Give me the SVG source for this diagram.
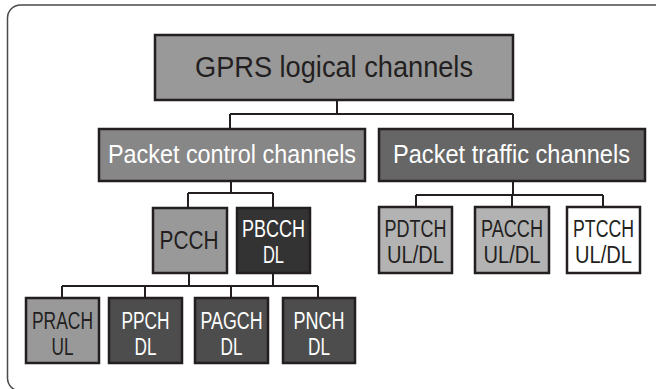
<svg xmlns="http://www.w3.org/2000/svg" width="656" height="389" viewBox="0 0 656 389">
<style>
.box{stroke:#231f20;stroke-width:2.5}
.con{fill:none;stroke:#231f20;stroke-width:2}
text{font-family:"Liberation Sans",Arial,sans-serif;text-anchor:middle}
.w{fill:#ffffff}
.d{fill:#231f20}
.s{font-size:23px}
.m{font-size:26px}
</style>
<rect x="7.5" y="5" width="670" height="386" rx="13" fill="#ffffff" stroke="#4a4a4a" stroke-width="1.5"/>
<g id="connectors">
<path class="con" d="M337 100V114M230 114H513M230 114V129M513 114V129"/>
<path class="con" d="M231 181V193M188 193H273M188 193V208M273 193V208"/>
<path class="con" d="M513 181V195M416 195H603M416 195V207M512 195V207M603 195V207"/>
<path class="con" d="M189 273V286M273 273V286M62 286H318M62 286V298M145 286V298M231 286V298M318 286V298"/>
</g>
<g id="gprs">
<rect class="box" x="155" y="35" width="358" height="65" fill="#999999"/>
<text class="d" x="334" y="77" font-size="30" textLength="278" lengthAdjust="spacingAndGlyphs">GPRS logical channels</text>
</g>
<g id="pcc">
<rect class="box" x="99" y="129" width="266" height="52" fill="#878787"/>
<text class="w m" x="232" y="163" textLength="248" lengthAdjust="spacingAndGlyphs">Packet control channels</text>
</g>
<g id="ptc">
<rect class="box" x="379" y="129" width="266" height="52" fill="#666666"/>
<text class="w m" x="511.5" y="163" textLength="237" lengthAdjust="spacingAndGlyphs">Packet traffic channels</text>
</g>
<g id="pcch">
<rect class="box" x="153" y="208" width="74" height="65" fill="#999999"/>
<text class="d" x="189" y="249" font-size="25" textLength="59" lengthAdjust="spacingAndGlyphs">PCCH</text>
</g>
<g id="pbcch">
<rect class="box" x="237" y="208" width="73" height="65" fill="#333333"/>
<text class="w s" x="273.5" y="237" textLength="63" lengthAdjust="spacingAndGlyphs">PBCCH</text>
<text class="w s" x="273.5" y="263" textLength="21" lengthAdjust="spacingAndGlyphs">DL</text>
</g>
<g id="pdtch">
<rect class="box" x="379" y="207" width="73" height="66" fill="#b3b3b3"/>
<text class="d s" x="415.5" y="237" textLength="62" lengthAdjust="spacingAndGlyphs">PDTCH</text>
<text class="d s" x="415.5" y="263" textLength="57" lengthAdjust="spacingAndGlyphs">UL/DL</text>
</g>
<g id="pacch">
<rect class="box" x="475" y="207" width="74" height="66" fill="#b3b3b3"/>
<text class="d s" x="512" y="237" textLength="62" lengthAdjust="spacingAndGlyphs">PACCH</text>
<text class="d s" x="512" y="263" textLength="57" lengthAdjust="spacingAndGlyphs">UL/DL</text>
</g>
<g id="ptcch">
<rect class="box" x="567" y="207" width="73" height="66" fill="#ffffff"/>
<text class="d s" x="603.5" y="237" textLength="61" lengthAdjust="spacingAndGlyphs">PTCCH</text>
<text class="d s" x="603.5" y="263" textLength="57" lengthAdjust="spacingAndGlyphs">UL/DL</text>
</g>
<g id="prach">
<rect class="box" x="26" y="298" width="73" height="65" fill="#999999"/>
<text class="d s" x="62.5" y="329" textLength="61" lengthAdjust="spacingAndGlyphs">PRACH</text>
<text class="d s" x="62.5" y="355" textLength="22" lengthAdjust="spacingAndGlyphs">UL</text>
</g>
<g id="ppch">
<rect class="box" x="109" y="298" width="73" height="65" fill="#4d4d4d"/>
<text class="w s" x="145.5" y="329" textLength="48" lengthAdjust="spacingAndGlyphs">PPCH</text>
<text class="w s" x="145.5" y="355" textLength="22" lengthAdjust="spacingAndGlyphs">DL</text>
</g>
<g id="pagch">
<rect class="box" x="195" y="298" width="73" height="65" fill="#4d4d4d"/>
<text class="w s" x="231.5" y="329" textLength="62" lengthAdjust="spacingAndGlyphs">PAGCH</text>
<text class="w s" x="231.5" y="355" textLength="22" lengthAdjust="spacingAndGlyphs">DL</text>
</g>
<g id="pnch">
<rect class="box" x="283" y="298" width="72" height="65" fill="#4d4d4d"/>
<text class="w s" x="319" y="329" textLength="51" lengthAdjust="spacingAndGlyphs">PNCH</text>
<text class="w s" x="319" y="355" textLength="22" lengthAdjust="spacingAndGlyphs">DL</text>
</g>
</svg>
